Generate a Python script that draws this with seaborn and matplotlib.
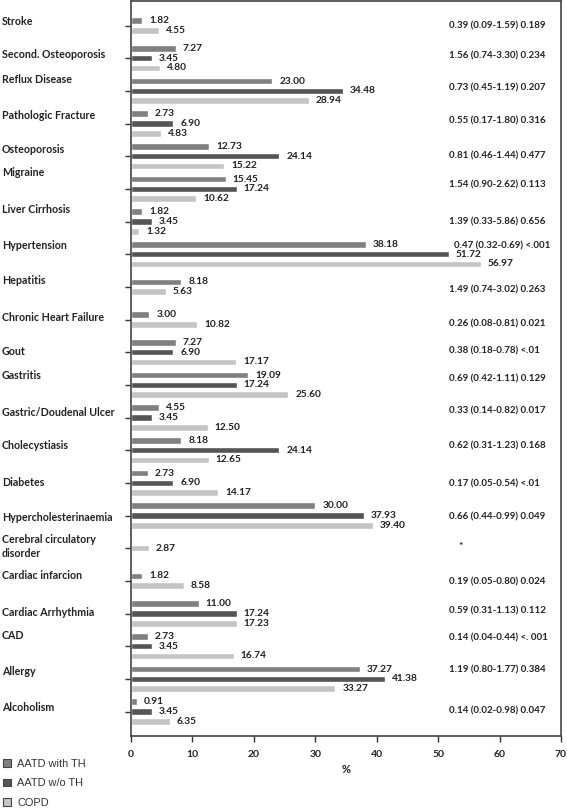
import numpy as np
import pandas as pd
import matplotlib
matplotlib.use("Agg")
import matplotlib.pyplot as plt
import seaborn as sns
from matplotlib.transforms import blended_transform_factory
from matplotlib.patches import Patch

categories = ["Stroke", "Second. Osteoporosis", "Reflux Disease", "Pathologic Fracture",
              "Osteoporosis", "Migraine", "Liver Cirrhosis", "Hypertension", "Hepatitis",
              "Chronic Heart Failure", "Gout", "Gastritis", "Gastric/Doudenal Ulcer",
              "Cholecystiasis", "Diabetes", "Hypercholesterinaemia",
              "Cerebral circulatory\ndisorder", "Cardiac infarcion", "Cardiac Arrhythmia",
              "CAD", "Allergy", "Alcoholism"]
series_names = ["AATD with TH", "AATD w/o TH", "COPD"]
aatd_with_th = [1.82, 7.27, 23.00, 2.73, 12.73, 15.45, 1.82, 38.18, 8.18, 3.00, 7.27,
                19.09, 4.55, 8.18, 2.73, 30.00, None, 1.82, 11.00, 2.73, 37.27, 0.91]
aatd_wo_th = [None, 3.45, 34.48, 6.90, 24.14, 17.24, 3.45, 51.72, None, None, 6.90,
              17.24, 3.45, 24.14, 6.90, 37.93, None, None, 17.24, 3.45, 41.38, 3.45]
copd = [4.55, 4.80, 28.94, 4.83, 15.22, 10.62, 1.32, 56.97, 5.63, 10.82, 17.17,
        25.60, 12.50, 12.65, 14.17, 39.40, 2.87, 8.58, 17.23, 16.74, 33.27, 6.35]
stats_text = ["0.39 (0.09-1.59) 0.189", "1.56 (0.74-3.30) 0.234", "0.73 (0.45-1.19) 0.207",
              "0.55 (0.17-1.80) 0.316", "0.81 (0.46-1.44) 0.477", "1.54 (0.90-2.62) 0.113",
              "1.39 (0.33-5.86) 0.656", "0.47 (0.32-0.69) <.001", "1.49 (0.74-3.02) 0.263",
              "0.26 (0.08-0.81) 0.021", "0.38 (0.18-0.78) <.01", "0.69 (0.42-1.11) 0.129",
              "0.33 (0.14-0.82) 0.017", "0.62 (0.31-1.23) 0.168", "0.17 (0.05-0.54) <.01",
              "0.66 (0.44-0.99) 0.049", "*", "0.19 (0.05-0.80) 0.024",
              "0.59 (0.31-1.13) 0.112", "0.14 (0.04-0.44) <. 001", "1.19 (0.80-1.77) 0.384",
              "0.14 (0.02-0.98) 0.047"]

# layout nudges (in row units) for the annotation texts
label_nudge = [-0.13, -0.10, -0.34, -0.25, -0.19, -0.49, -0.37, -0.28, -0.18, -0.07, -0.03,
               -0.28, -0.16, -0.13, 0.0, 0.06, -0.06, -0.16, -0.03, -0.34, -0.22, -0.12]
stats_nudge = [0.0, -0.06, -0.09, -0.09, 0.0, -0.12, 0.0, -0.24, 0.09, 0.15, -0.03,
               -0.18, -0.21, -0.12, 0.03, 0.03, -0.06, 0.03, -0.09, -0.24, -0.28, -0.03]

sns.set_theme(style="ticks")
plt.rcParams["font.family"] = ["Lato", "DejaVu Sans"]

rows = []
for i, cat in enumerate(categories):
    vals = [(n, v) for n, v in zip(series_names, (aatd_with_th[i], aatd_wo_th[i], copd[i]))
            if v is not None]
    offsets = {1: [0.0], 2: [-0.15, 0.15], 3: [-0.3, 0.0, 0.3]}[len(vals)]
    for (n, v), off in zip(vals, offsets):
        rows.append(dict(pos=round(i + off, 4), value=v, group=n))
df = pd.DataFrame(rows)

fig = plt.figure(figsize=(5.67, 8.09), dpi=100)
ax = fig.add_axes([131 / 567, 1 - 736 / 809, 430 / 567, 735 / 809])
palette = {"AATD with TH": "#808080", "AATD w/o TH": "#555555", "COPD": "#c4c4c4"}
sns.barplot(data=df, x="value", y="pos", hue="group", hue_order=series_names,
            palette=palette, orient="y", native_scale=True, dodge=False,
            width=0.2 / 0.3, saturation=1, errorbar=None, legend=False, ax=ax)

for c in ax.containers:
    ax.bar_label(c, fmt="%.2f", padding=5, fontsize=7.3, fontweight="bold", color="#222")

ax.set_xlim(0, 70)
ax.set_ylim(len(categories) - 0.25, -0.75)
ax.set_xticks(range(0, 71, 10))
ax.set_yticks(range(len(categories)))
ax.set_yticklabels([])
ax.set_ylabel("")
ax.set_xlabel("%", fontsize=8, fontweight="bold", labelpad=4, color="#222")
ax.tick_params(axis="x", labelsize=7.5, length=4, width=1, color="#333", pad=6, labelcolor="#222")
ax.tick_params(axis="y", length=4, width=1, color="#333")
for lbl in ax.get_xticklabels():
    lbl.set_fontweight("bold")
for sp in ax.spines.values():
    sp.set_color("#444")
    sp.set_linewidth(1.2)

trans = blended_transform_factory(fig.transFigure, ax.transData)
for i, cat in enumerate(categories):
    ax.text(2 / 567, i + label_nudge[i], cat, transform=trans, ha="left", va="center",
            fontsize=7.7, fontweight="bold", color="#222", linespacing=1.3)
    s = stats_text[i]
    if s == "*":
        ax.text(53.6, i + stats_nudge[i], s, ha="center", va="center", fontsize=7.5,
                fontweight="bold", color="#222")
    else:
        x0 = 52.6 if s.endswith("<.001") else 51.8
        ax.text(x0, i + stats_nudge[i], s, ha="left", va="center", fontsize=7.0,
                fontweight="bold", color="#222")

handles = [Patch(facecolor=palette[n], edgecolor="#444", linewidth=0.8, label=n)
           for n in series_names]
fig.legend(handles=handles, loc="upper left", bbox_to_anchor=(3 / 567, 1 - 759 / 809),
           frameon=False, prop=dict(family="Liberation Sans", size=7.9),
           handlelength=0.7, handleheight=0.7, handletextpad=0.6, labelspacing=0.85,
           borderpad=0, borderaxespad=0, labelcolor="#333")

fig.savefig("out.png", dpi=100)
